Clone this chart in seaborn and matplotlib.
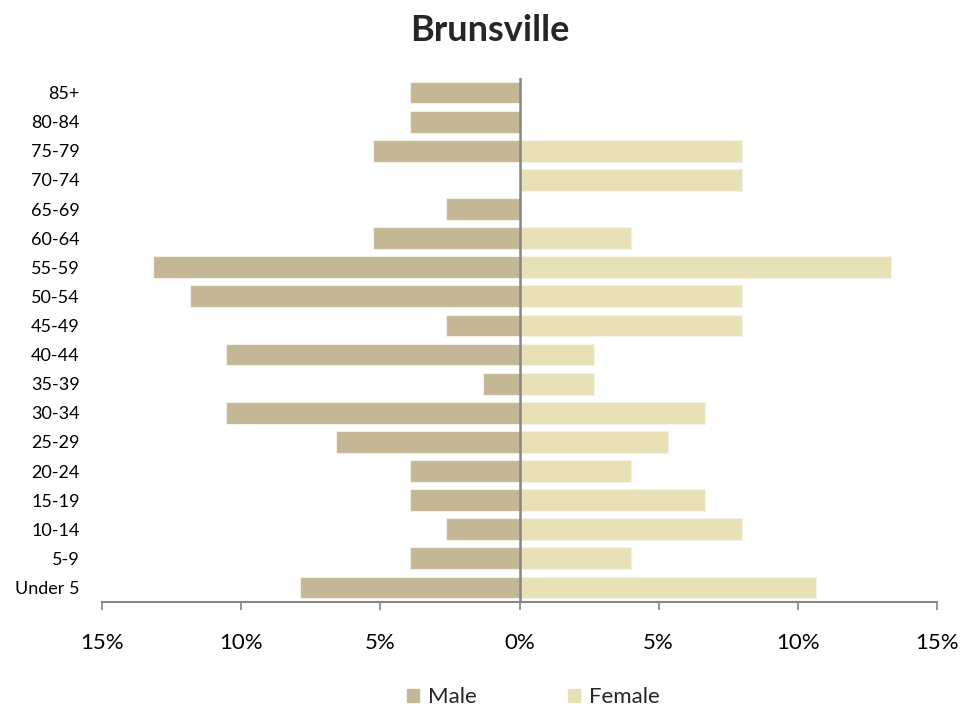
## Population pyramid for Brunsville

## Imports
import pandas as pd
import seaborn as sns
import matplotlib.pyplot as plt
from matplotlib.ticker import FuncFormatter
from matplotlib.patches import Patch

## Data (percent of each sex), top row first
ages = ['85+', '80-84', '75-79', '70-74', '65-69', '60-64', '55-59', '50-54', '45-49',
        '40-44', '35-39', '30-34', '25-29', '20-24', '15-19', '10-14', '5-9', 'Under 5']
male = [3.95, 3.95, 5.26, 0.0, 2.63, 5.26, 13.16, 11.84, 2.63,
        10.53, 1.32, 10.53, 6.58, 3.95, 3.95, 2.63, 3.95, 7.89]
female = [0.0, 0.0, 8.0, 8.0, 0.0, 4.0, 13.33, 8.0, 8.0,
          2.67, 2.67, 6.67, 5.33, 4.0, 6.67, 8.0, 4.0, 10.67]
ticks = [-15, -10, -5, 0, 5, 10, 15]

male_col = '#C4B795'
female_col = '#E8E1B8'

## Long table, male to the left
df = pd.concat([
    pd.DataFrame({'age': ages, 'pct': [-v for v in male], 'sex': 'Male'}),
    pd.DataFrame({'age': ages, 'pct': female, 'sex': 'Female'}),
])

sns.set_style('white')
plt.rcParams['font.family'] = ['Lato', 'DejaVu Sans']

fig = plt.figure(figsize=(9.79, 7.13), dpi=100)
ax = fig.add_axes([102 / 979, 1 - 602 / 713, 835 / 979, 524 / 713])

sns.barplot(data=df, y='age', x='pct', hue='sex', order=ages, dodge=False,
            palette={'Male': male_col, 'Female': female_col}, width=0.75,
            saturation=1, edgecolor='#F4F1E6', linewidth=0.8, legend=False, ax=ax)

ax.set_xlim(-15, 15)
ax.set_ylim(len(ages) - 0.5, -0.5)
ax.set_xticks(ticks)
ax.xaxis.set_major_formatter(FuncFormatter(lambda v, p: '%d%%' % abs(v)))
ax.set_xlabel('')
ax.set_ylabel('')

## Axis look: bottom spine with outward ticks, zero line as the y axis
for s in ['top', 'right', 'left']:
    ax.spines[s].set_visible(False)
ax.spines['bottom'].set_color('#868686')
ax.spines['bottom'].set_linewidth(1.5)
ax.axvline(0, color='#868686', linewidth=1.8, zorder=5)
ax.tick_params(axis='x', direction='out', length=6, width=1.2, color='#868686',
               labelsize=16, labelcolor='black', pad=16, bottom=True)
ax.tick_params(axis='y', length=0, labelsize=13, labelcolor='black', pad=16)

fig.suptitle('Brunsville', fontsize=26, fontweight='bold', y=0.98)

handles = [Patch(color=male_col, label='Male'), Patch(color=female_col, label='Female')]
fig.legend(handles=handles, loc='lower center', ncol=2, frameon=False, fontsize=16,
           bbox_to_anchor=(0.545, -0.02), handlelength=0.55, handleheight=0.55,
           handletextpad=0.4, columnspacing=4.1)

plt.savefig('out.png', dpi=100)
